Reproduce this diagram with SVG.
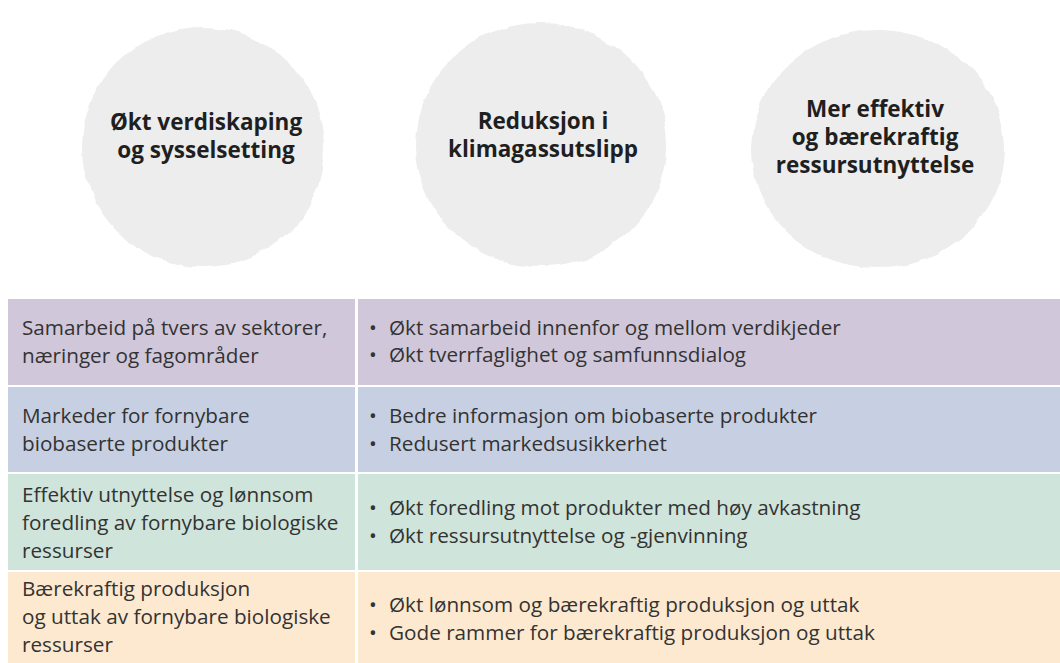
<svg xmlns="http://www.w3.org/2000/svg" width="1060" height="663" viewBox="0 0 1060 663">
  <defs>
    <!-- slightly ragged, brushed edge for the grey discs -->
    <filter id="brush" x="-5%" y="-5%" width="110%" height="110%">
      <feTurbulence type="fractalNoise" baseFrequency="0.035" numOctaves="3" seed="7" result="noise"/>
      <feDisplacementMap in="SourceGraphic" in2="noise" scale="7" xChannelSelector="R" yChannelSelector="G"/>
    </filter>
  </defs>
  <style>
    .disc { fill: #ededed; filter: url(#brush); }
    .goal { font-family: "Open Sans", "Liberation Sans", sans-serif; font-weight: 700; font-size: 22.5px; fill: #1f1f1f; text-anchor: middle; }
    .cell { font-family: "Open Sans", "Liberation Sans", sans-serif; font-size: 20.7px; fill: #333333; }
    .sep { fill: #ffffff; }
  </style>
  <rect width="1060" height="663" fill="#ffffff"/>

  <!-- goal circles -->
  <g id="goal-verdiskaping">
    <ellipse class="disc" cx="203" cy="147" rx="121" ry="120"/>
    <text class="goal" x="206" y="130">Økt verdiskaping</text>
    <text class="goal" x="206" y="158">og sysselsetting</text>
  </g>
  <g id="goal-klima">
    <ellipse class="disc" cx="541" cy="145" rx="126" ry="122"/>
    <text class="goal" x="543" y="129">Reduksjon i</text>
    <text class="goal" x="543" y="157">klimagassutslipp</text>
  </g>
  <g id="goal-ressurs">
    <ellipse class="disc" cx="878" cy="149" rx="127" ry="119"/>
    <text class="goal" x="875" y="117">Mer effektiv</text>
    <text class="goal" x="875" y="145">og bærekraftig</text>
    <text class="goal" x="875" y="173">ressursutnyttelse</text>
  </g>

  <!-- table rows -->
  <g id="row-samarbeid">
    <rect x="8" y="299" width="1052" height="86" fill="#d0c7da"/>
    <text class="cell" x="22" y="335">Samarbeid på tvers av sektorer,</text>
    <text class="cell" x="22" y="363">næringer og fagområder</text>
    <text class="cell" x="369" y="335">•</text>
    <text class="cell" x="389" y="335">Økt samarbeid innenfor og mellom verdikjeder</text>
    <text class="cell" x="369" y="362">•</text>
    <text class="cell" x="389" y="362">Økt tverrfaglighet og samfunnsdialog</text>
  </g>
  <g id="row-markeder">
    <rect x="8" y="387" width="1052" height="85" fill="#c7d0e2"/>
    <text class="cell" x="22" y="423">Markeder for fornybare</text>
    <text class="cell" x="22" y="451">biobaserte produkter</text>
    <text class="cell" x="369" y="423">•</text>
    <text class="cell" x="389" y="423">Bedre informasjon om biobaserte produkter</text>
    <text class="cell" x="369" y="451">•</text>
    <text class="cell" x="389" y="451">Redusert markedsusikkerhet</text>
  </g>
  <g id="row-foredling">
    <rect x="8" y="474" width="1052" height="96" fill="#cfe4da"/>
    <text class="cell" x="22" y="502">Effektiv utnyttelse og lønnsom</text>
    <text class="cell" x="22" y="530">foredling av fornybare biologiske</text>
    <text class="cell" x="22" y="558">ressurser</text>
    <text class="cell" x="369" y="515">•</text>
    <text class="cell" x="389" y="515">Økt foredling mot produkter med høy avkastning</text>
    <text class="cell" x="369" y="543">•</text>
    <text class="cell" x="389" y="543">Økt ressursutnyttelse og -gjenvinning</text>
  </g>
  <g id="row-produksjon">
    <rect x="8" y="572" width="1052" height="91" fill="#fde9cf"/>
    <text class="cell" x="22" y="596">Bærekraftig produksjon</text>
    <text class="cell" x="22" y="624">og uttak av fornybare biologiske</text>
    <text class="cell" x="22" y="652">ressurser</text>
    <text class="cell" x="369" y="612">•</text>
    <text class="cell" x="389" y="612">Økt lønnsom og bærekraftig produksjon og uttak</text>
    <text class="cell" x="369" y="640">•</text>
    <text class="cell" x="389" y="640">Gode rammer for bærekraftig produksjon og uttak</text>
  </g>

  <!-- column divider -->
  <g id="connectors">
    <rect class="sep" x="355" y="299" width="3" height="364"/>
  </g>
</svg>
